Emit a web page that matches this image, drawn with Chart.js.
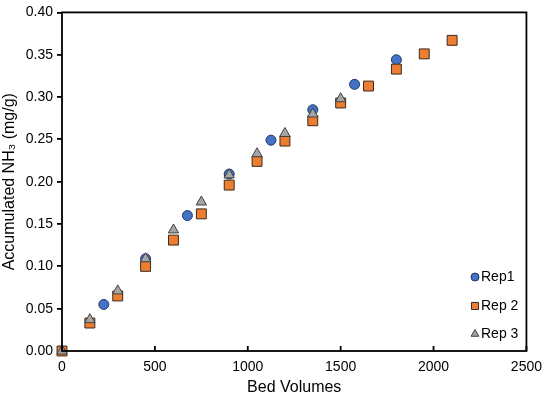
<!DOCTYPE html>
<html>
<head>
<meta charset="utf-8">
<script src="https://cdn.jsdelivr.net/npm/chart.js@4.4.1/dist/chart.umd.min.js"></script>
<style>
  html, body { margin: 0; padding: 0; background: #fff; }
  #wrap { width: 550px; height: 397px; position: relative; }
</style>
</head>
<body>
<div id="wrap"><canvas id="myChart"></canvas></div>
<script>
// Bed volumes and accumulated NH3 (mg/g) for each replicate
const rep1X = [225, 450, 675, 900, 1125, 1350, 1575, 1800];
const rep1Y = [0.055, 0.109, 0.160, 0.209, 0.249, 0.285, 0.315, 0.344];

const rep2X = [0, 150, 300, 450, 600, 750, 900, 1050, 1200, 1350, 1500, 1650, 1800, 1950, 2100];
const rep2Y = [0.000, 0.033, 0.065, 0.100, 0.131, 0.162, 0.196, 0.224, 0.248, 0.272, 0.293, 0.313, 0.333, 0.351, 0.367];

const rep3X = [0, 150, 300, 450, 600, 750, 900, 1050, 1200, 1350, 1500];
const rep3Y = [0.000, 0.037, 0.071, 0.109, 0.143, 0.176, 0.208, 0.233, 0.257, 0.280, 0.298];

const xTicks = [0, 500, 1000, 1500, 2000, 2500];
const yTicks = [0, 0.05, 0.10, 0.15, 0.20, 0.25, 0.30, 0.35, 0.40];

function toPoints(xs, ys) {
    return xs.map((x, i) => ({ x: x, y: ys[i] }));
}

const FONT = 'Liberation Sans, Arial, sans-serif';

// draws the frame, inward x ticks and the legend inside the plot
const framePlugin = {
    id: 'frame',
    afterDraw(chart) {
        const ctx = chart.ctx;
        const a = chart.chartArea;
        const xs = chart.scales.x;
        ctx.save();
        ctx.strokeStyle = '#000';
        ctx.lineWidth = 1.8;
        ctx.strokeRect(a.left, a.top, a.right - a.left, a.bottom - a.top);
        ctx.beginPath();
        xTicks.forEach((v) => {
            const px = xs.getPixelForValue(v);
            ctx.moveTo(px, a.bottom);
            ctx.lineTo(px, a.bottom - 5);
        });
        ctx.stroke();

        // legend
        const rows = [277, 306, 334];
        const sizes = [4, 5, 4.5];
        chart.data.datasets.forEach((ds, i) => {
            const y = rows[i];
            ctx.fillStyle = ds.backgroundColor;
            ctx.strokeStyle = ds.borderColor;
            ctx.lineWidth = 1;
            Chart.helpers.drawPoint(ctx, { pointStyle: ds.pointStyle, radius: sizes[i], rotation: 0, borderWidth: 1 }, 475, y);
            ctx.fillStyle = '#000';
            ctx.font = '14px ' + FONT;
            ctx.textBaseline = 'middle';
            ctx.textAlign = 'left';
            ctx.fillText(ds.label, 481, y);
        });
        ctx.restore();
    }
};

const ctx = document.getElementById('myChart').getContext('2d');
const chart = new Chart(ctx, {
    type: 'scatter',
    data: {
        datasets: [{
            label: 'Rep1',
            data: toPoints(rep1X, rep1Y),
            pointStyle: 'circle',
            pointRadius: 5,
            backgroundColor: '#4472C4',
            borderColor: '#1F3864',
            borderWidth: 1,
            clip: false,
            order: 2
        }, {
            label: 'Rep 2',
            data: toPoints(rep2X, rep2Y),
            pointStyle: 'rect',
            pointRadius: 7,
            backgroundColor: '#ED7D31',
            borderColor: '#3a2a1e',
            borderWidth: 1,
            clip: false,
            order: 1
        }, {
            label: 'Rep 3',
            data: toPoints(rep3X, rep3Y),
            pointStyle: 'triangle',
            pointRadius: 6,
            backgroundColor: '#A5A5A5',
            borderColor: '#404040',
            borderWidth: 1,
            clip: false,
            order: 0
        }]
    },
    plugins: [framePlugin],
    options: {
        responsive: true,
        maintainAspectRatio: false,
        animation: false,
        layout: { padding: { top: 8, right: 20, left: 0, bottom: 0 } },
        plugins: {
            legend: { display: false },
            tooltip: { enabled: false }
        },
        scales: {
            x: {
                type: 'linear',
                min: 0,
                max: 2500,
                afterBuildTicks: (s) => { s.ticks = xTicks.map((v) => ({ value: v })); },
                afterFit: (s) => { s.height = 46; },
                grid: { display: false, drawTicks: false },
                border: { display: false },
                ticks: {
                    color: '#000',
                    padding: 8,
                    font: { family: FONT, size: 14 },
                    callback: (v) => String(v)
                },
                title: {
                    display: true,
                    text: 'Bed Volumes',
                    color: '#000',
                    padding: { top: 1, bottom: 0 },
                    font: { family: FONT, size: 16 }
                }
            },
            y: {
                type: 'linear',
                min: 0,
                max: 0.4,
                afterBuildTicks: (s) => { s.ticks = yTicks.map((v) => ({ value: v })); },
                afterFit: (s) => { s.width = 62; },
                grid: { drawOnChartArea: false, drawTicks: true, tickLength: 5, color: '#000', lineWidth: 1.8 },
                border: { display: false },
                ticks: {
                    color: '#000',
                    padding: 4,
                    font: { family: FONT, size: 14 },
                    callback: (v) => v.toFixed(2)
                },
                title: {
                    display: true,
                    text: 'Accumulated NH\u2083 (mg/g)',
                    color: '#000',
                    padding: { top: 0, bottom: 0 },
                    font: { family: FONT, size: 16 }
                }
            }
        }
    }
});
</script>
</body>
</html>
